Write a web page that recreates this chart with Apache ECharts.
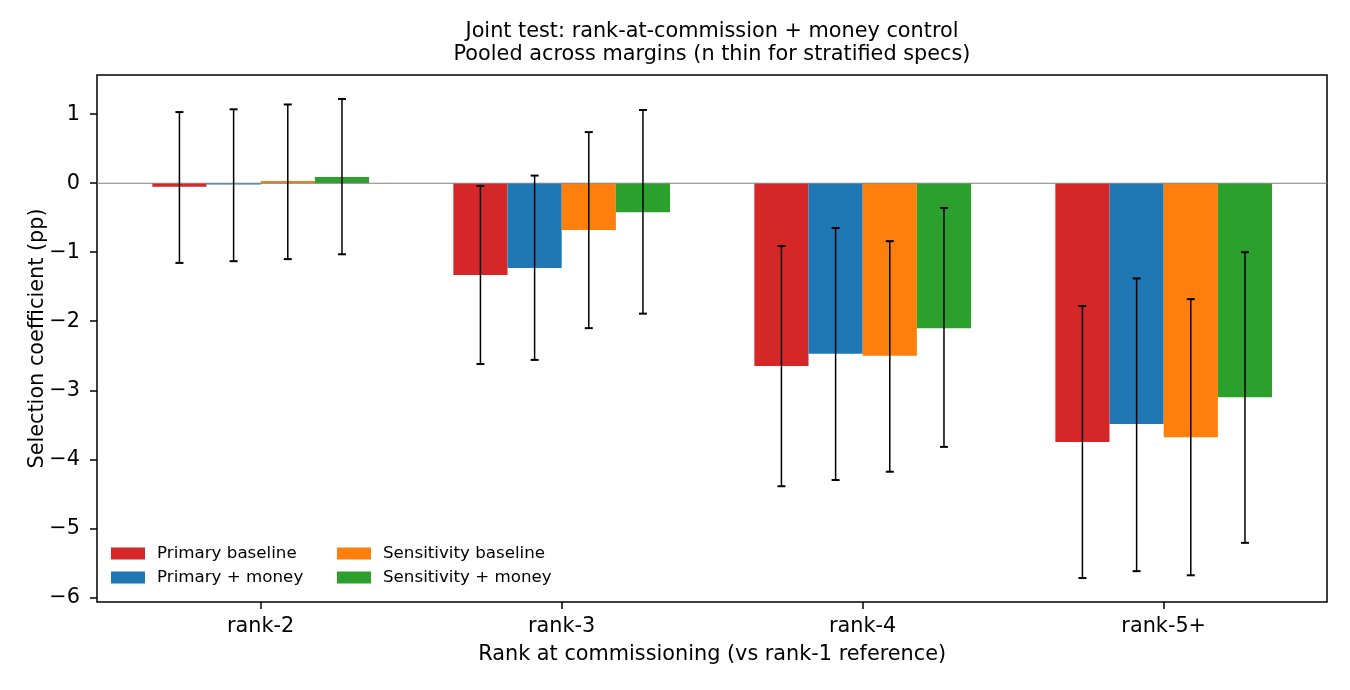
<!DOCTYPE html>
<html>
<head>
<meta charset="utf-8">
<script src="https://cdn.jsdelivr.net/npm/echarts@6/dist/echarts.min.js"></script>
<style>
html,body{margin:0;padding:0;background:#fff;}
#chart{width:1350px;height:690px;}
</style>
</head>
<body>
<div id="chart"></div>
<script>
const categories = ['rank-2', 'rank-3', 'rank-4', 'rank-5+'];
const seriesNames = ['Primary baseline', 'Primary + money', 'Sensitivity baseline', 'Sensitivity + money'];
const seriesColors = ['#d62728', '#1f77b4', '#ff7f0e', '#2ca02c'];

const primaryBaseline   = [-0.05, -1.33, -2.65, -3.75];
const primaryBaselineLo = [-1.155, -2.62, -4.39, -5.72];
const primaryBaselineHi = [1.03, -0.04, -0.91, -1.78];

const primaryMoney   = [-0.02, -1.23, -2.47, -3.49];
const primaryMoneyLo = [-1.13, -2.56, -4.30, -5.62];
const primaryMoneyHi = [1.07, 0.11, -0.65, -1.38];

const sensBaseline   = [0.03, -0.68, -2.50, -3.68];
const sensBaselineLo = [-1.10, -2.10, -4.18, -5.68];
const sensBaselineHi = [1.14, 0.74, -0.84, -1.68];

const sensMoney   = [0.09, -0.42, -2.10, -3.10];
const sensMoneyLo = [-1.03, -1.89, -3.82, -5.21];
const sensMoneyHi = [1.22, 1.06, -0.36, -1.00];

const yTicks = [-6, -5, -4, -3, -2, -1, 0, 1];
const zeroLine = [[0, 0], [1, 0]];
const titleText = 'Joint test: rank-at-commission + money control\nPooled across margins (n thin for stratified specs)';
const xAxisTitle = 'Rank at commissioning (vs rank-1 reference)';
const yAxisTitle = 'Selection coefficient (pp)';

const values = [primaryBaseline, primaryMoney, sensBaseline, sensMoney];
const lows = [primaryBaselineLo, primaryMoneyLo, sensBaselineLo, sensMoneyLo];
const highs = [primaryBaselineHi, primaryMoneyHi, sensBaselineHi, sensMoneyHi];

const FONT = 'DejaVu Sans';
const FS = 20.8;
const YMIN = -6.067, YMAX = 1.567;
const BAR_FRAC = 0.18;

const fmt = v => (v < 0 ? '\u2212' + Math.abs(v) : String(v));

const chart = echarts.init(document.getElementById('chart'), null, {renderer: 'canvas'});

const series = [];
values.forEach((vals, i) => {
  series.push({
    type: 'bar',
    name: seriesNames[i],
    xAxisIndex: 1, yAxisIndex: 1,
    data: vals,
    barWidth: (BAR_FRAC * 100) + '%',
    barGap: '0%',
    itemStyle: {color: seriesColors[i]},
    emphasis: {disabled: true},
    z: 2
  });
});

// zero reference line across the full frame
series.push({
  type: 'line',
  name: 'zero',
  xAxisIndex: 0, yAxisIndex: 0,
  data: zeroLine,
  showSymbol: false,
  symbol: 'none',
  silent: true,
  lineStyle: {color: '#808080', width: 1.1},
  z: 3
});

values.forEach((vals, i) => {
  series.push({
    type: 'custom',
    name: 'err' + i,
    xAxisIndex: 1, yAxisIndex: 1,
    z: 5,
    silent: true,
    data: categories.map((c, k) => [k, lows[i][k], highs[i][k]]),
    encode: {x: 0, y: [1, 2]},
    renderItem: function (params, api) {
      const k = api.value(0);
      const band = api.size([1, 0])[0];
      const off = (i - 1.5) * BAR_FRAC * band;
      const lo = api.coord([k, api.value(1)]);
      const hi = api.coord([k, api.value(2)]);
      const x = lo[0] + off;
      const cap = 4;
      const style = {stroke: '#000', lineWidth: 1.5};
      const capStyle = {stroke: '#000', lineWidth: 2};
      return {
        type: 'group',
        children: [
          {type: 'line', shape: {x1: x, y1: lo[1], x2: x, y2: hi[1]}, style: style},
          {type: 'line', shape: {x1: x - cap, y1: lo[1], x2: x + cap, y2: lo[1]}, style: capStyle},
          {type: 'line', shape: {x1: x - cap, y1: hi[1], x2: x + cap, y2: hi[1]}, style: capStyle}
        ]
      };
    }
  });
});

const legendCommon = {
  orient: 'vertical',
  top: 545,
  padding: 0,
  itemWidth: 34,
  itemHeight: 12,
  itemGap: 7,
  icon: 'rect',
  selectedMode: false,
  textStyle: {fontFamily: FONT, fontSize: 16.7, lineHeight: 17, color: '#000', padding: [0, 0, 0, 7]}
};

const option = {
  animation: false,
  backgroundColor: '#fff',
  textStyle: {fontFamily: FONT},
  title: {
    text: titleText,
    left: 712,
    textAlign: 'center',
    top: 20,
    padding: 0,
    textStyle: {fontFamily: FONT, fontSize: FS, fontWeight: 'normal', color: '#000', lineHeight: 23}
  },
  legend: [
    Object.assign({}, legendCommon, {left: 111, data: [seriesNames[0], seriesNames[1]]}),
    Object.assign({}, legendCommon, {left: 337, data: [seriesNames[2], seriesNames[3]]})
  ],
  grid: [
    {left: 97, right: 23, top: 75, bottom: 88, show: true, borderColor: '#000', borderWidth: 1.5, backgroundColor: 'transparent'},
    {left: 110.2, right: 35.8, top: 75, bottom: 88}
  ],
  xAxis: [
    {gridIndex: 0, type: 'value', min: 0, max: 1, show: false},
    {
      gridIndex: 1, type: 'category', data: categories,
      axisLine: {show: false, onZero: false},
      axisTick: {show: true, alignWithLabel: true, length: 7, lineStyle: {color: '#000', width: 1.5}},
      axisLabel: {fontFamily: FONT, fontSize: FS, color: '#000', margin: 14},
      name: xAxisTitle,
      nameLocation: 'middle',
      nameGap: 42,
      nameMoveOverlap: false,
      nameTextStyle: {fontFamily: FONT, fontSize: FS, color: '#000'}
    }
  ],
  yAxis: [
    {
      gridIndex: 0, type: 'value', min: YMIN, max: YMAX,
      axisLine: {show: false},
      splitLine: {show: false},
      axisTick: {show: true, length: 7, lineStyle: {color: '#000', width: 1.5}, customValues: yTicks},
      axisLabel: {fontFamily: FONT, fontSize: FS, color: '#000', margin: 17, customValues: yTicks, formatter: fmt},
      name: yAxisTitle,
      nameLocation: 'middle',
      nameGap: 49,
      nameMoveOverlap: false,
      nameRotate: 90,
      nameTextStyle: {fontFamily: FONT, fontSize: FS, color: '#000'}
    },
    {gridIndex: 1, type: 'value', min: YMIN, max: YMAX, show: false, splitLine: {show: false}}
  ],
  series: series
};

chart.setOption(option);
</script>
</body>
</html>
